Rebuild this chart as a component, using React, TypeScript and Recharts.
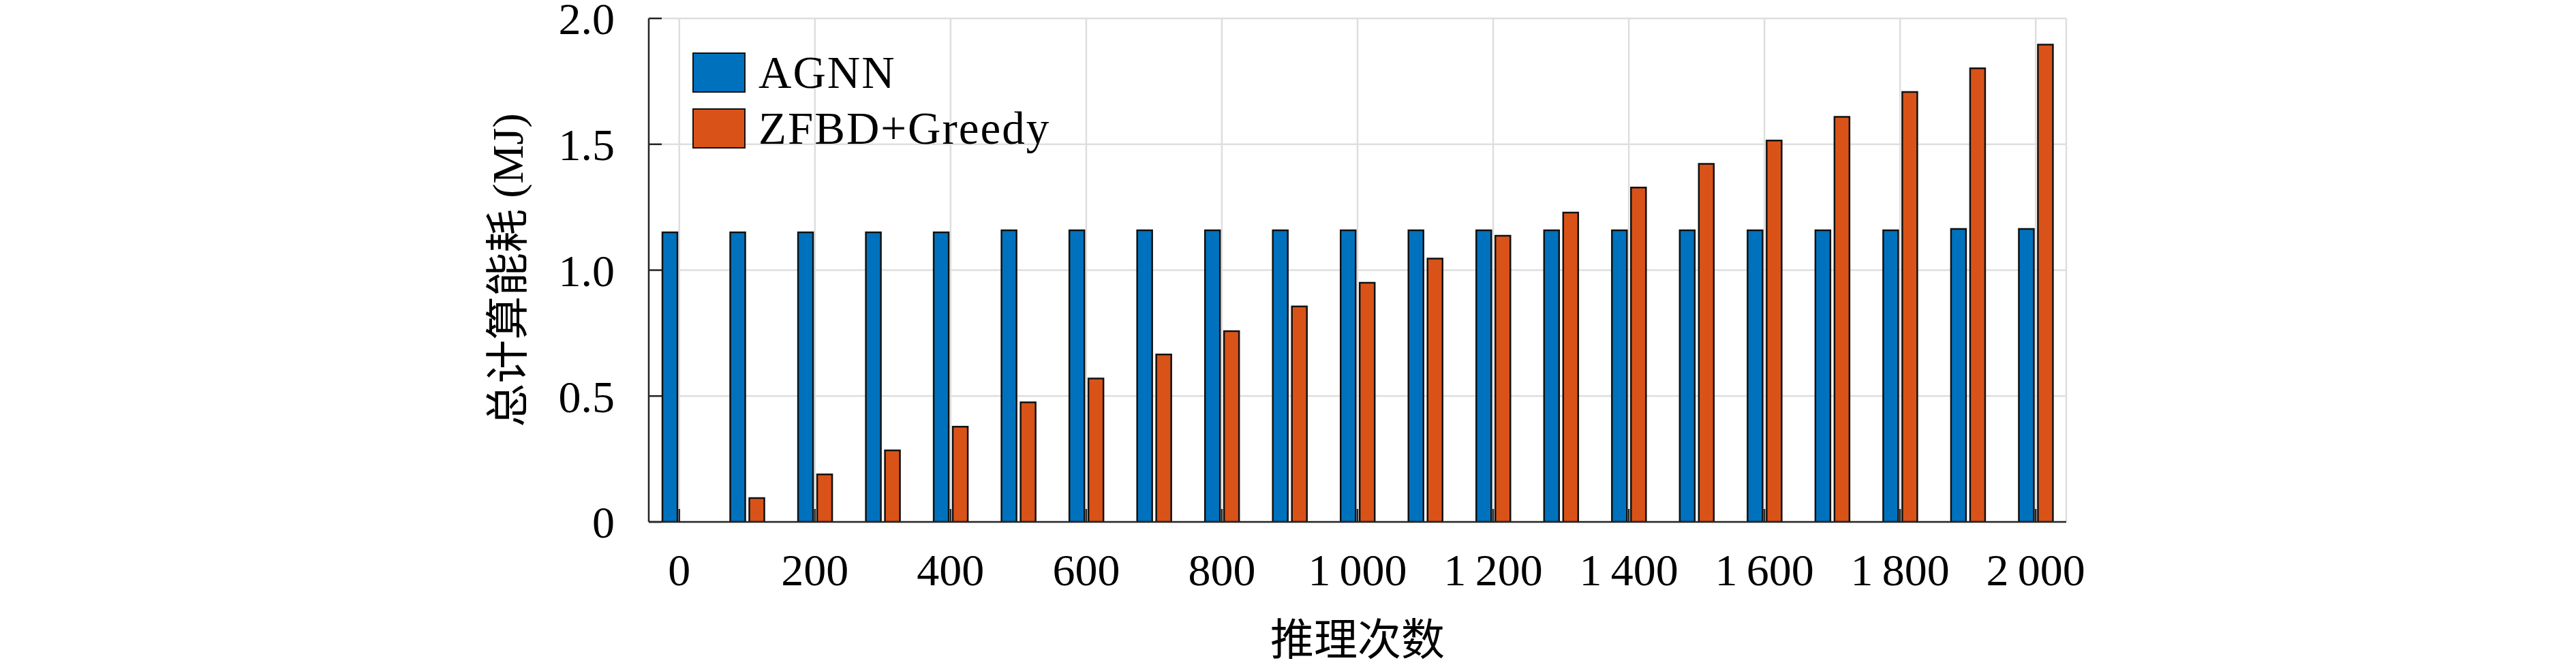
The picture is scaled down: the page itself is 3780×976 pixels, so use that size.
import React from 'react';
import { BarChart, Bar, XAxis, YAxis, CartesianGrid, Legend } from 'recharts';

const FONT = "'Liberation Serif', 'Noto Sans CJK SC', serif";
const AXIS = '#262626';
const GRID = '#dedede';

// inference counts (x positions of the bar groups)
const counts = [
  0, 100, 200, 300, 400, 500, 600, 700, 800, 900, 1000,
  1100, 1200, 1300, 1400, 1500, 1600, 1700, 1800, 1900, 2000,
];
// total computing energy (MJ)
const agnn = [
  1.15, 1.15, 1.15, 1.15, 1.15, 1.158, 1.158, 1.158, 1.158, 1.158, 1.158,
  1.158, 1.158, 1.158, 1.158, 1.158, 1.158, 1.158, 1.158, 1.164, 1.164,
];
const zfbdGreedy = [
  0, 0.095, 0.189, 0.284, 0.378, 0.475, 0.570, 0.665, 0.758, 0.856, 0.950,
  1.046, 1.137, 1.229, 1.328, 1.422, 1.515, 1.609, 1.708, 1.802, 1.896,
];

const xTicks = [0, 200, 400, 600, 800, 1000, 1200, 1400, 1600, 1800, 2000];
const xTickLabels = ['0', '200', '400', '600', '800', '1\u2009000', '1\u2009200', '1\u2009400', '1\u2009600', '1\u2009800', '2\u2009000'];
const yTicks = [0, 0.5, 1.0, 1.5, 2.0];
const yTickLabels = ['0', '0.5', '1.0', '1.5', '2.0'];

const seriesNames = ['AGNN', 'ZFBD+Greedy'];
const seriesColors = ['#0072BD', '#D95319'];

const data = counts.map((c, i) => ({ count: c, agnn: agnn[i], zfbd: zfbdGreedy[i] }));

const tickStyle = { fontSize: 66, fill: '#000', fontFamily: FONT };

const renderXTitle = (props: any) => {
  const vb = props.viewBox;
  return (
    <text
      x={vb.x + vb.width / 2}
      y={vb.y + 173}
      textAnchor="middle"
      dominantBaseline="central"
      fontSize={64}
      fontFamily={FONT}
      fill="#000"
    >
      推理次数
    </text>
  );
};

const renderYTitle = (props: any) => {
  const vb = props.viewBox;
  const cx = vb.x - 107;
  const cy = vb.y + vb.height / 2;
  return (
    <text
      x={cx}
      y={cy}
      transform={`rotate(-90, ${cx}, ${cy})`}
      textAnchor="middle"
      dominantBaseline="central"
      fontSize={64}
      fontFamily={FONT}
      fill="#000"
    >
      总计算能耗 (MJ)
    </text>
  );
};

const renderLegend = (props: any) => (
  <div style={{ display: 'flex', flexDirection: 'column' }}>
    {(props.payload || []).map((p: any) => (
      <div key={p.value} style={{ display: 'flex', alignItems: 'center', height: 82 }}>
        <div
          style={{
            width: 78,
            height: 59,
            boxSizing: 'border-box',
            background: p.color,
            border: '2.5px solid #111',
          }}
        />
        <span
          style={{
            marginLeft: 19,
            fontSize: 67,
            lineHeight: '82px',
            letterSpacing: 2,
            fontFamily: FONT,
            color: '#000',
            whiteSpace: 'nowrap',
          }}
        >
          {p.value}
        </span>
      </div>
    ))}
  </div>
);

export default function App() {
  return (
    <div style={{ width: 3780, height: 976, background: '#fff' }}>
      <style>{'body{margin:0;}'}</style>
      <BarChart
        width={3780}
        height={976}
        data={data}
        margin={{ top: 27, right: 748, bottom: 110, left: 852 }}
        barSize={22}
        barGap={6}
      >
        <CartesianGrid stroke={GRID} strokeWidth={2.5} />
        <XAxis
          dataKey="count"
          type="number"
          domain={[-45, 2045]}
          allowDataOverflow
          ticks={xTicks}
          interval={0}
          tickFormatter={(v: number) => xTickLabels[xTicks.indexOf(v)]}
          tick={tickStyle}
          tickSize={-19}
          tickMargin={65}
          height={100}
          axisLine={{ stroke: AXIS, strokeWidth: 2.5 }}
          tickLine={{ stroke: AXIS, strokeWidth: 2.5 }}
          label={renderXTitle}
        />
        <XAxis
          xAxisId="top"
          orientation="top"
          type="number"
          domain={[-45, 2045]}
          allowDataOverflow
          ticks={xTicks}
          interval={0}
          tickFormatter={() => ''}
          tickSize={-19}
          height={0}
          axisLine={{ stroke: AXIS, strokeWidth: 2.5 }}
          tickLine={{ stroke: AXIS, strokeWidth: 2.5 }}
        />
        <YAxis
          type="number"
          domain={[0, 2]}
          allowDataOverflow
          ticks={yTicks}
          interval={0}
          tickFormatter={(v: number) => yTickLabels[yTicks.indexOf(v)]}
          tick={tickStyle}
          tickSize={-19}
          tickMargin={69}
          width={100}
          axisLine={{ stroke: AXIS, strokeWidth: 2.5 }}
          tickLine={{ stroke: AXIS, strokeWidth: 2.5 }}
          label={renderYTitle}
        />
        <YAxis
          yAxisId="right"
          orientation="right"
          type="number"
          domain={[0, 2]}
          allowDataOverflow
          ticks={yTicks}
          interval={0}
          tickFormatter={() => ''}
          tickSize={-19}
          width={0}
          axisLine={{ stroke: AXIS, strokeWidth: 2.5 }}
          tickLine={{ stroke: AXIS, strokeWidth: 2.5 }}
        />
        <Legend
          layout="vertical"
          align="center"
          verticalAlign="middle"
          content={renderLegend}
          wrapperStyle={{ left: 1016, top: 65, width: 700, height: 164 }}
        />
        <Bar
          dataKey="agnn"
          name={seriesNames[0]}
          fill={seriesColors[0]}
          stroke="#111"
          strokeWidth={2.5}
          isAnimationActive={false}
        />
        <Bar
          dataKey="zfbd"
          name={seriesNames[1]}
          fill={seriesColors[1]}
          stroke="#111"
          strokeWidth={2.5}
          isAnimationActive={false}
        />
      </BarChart>
    </div>
  );
}
